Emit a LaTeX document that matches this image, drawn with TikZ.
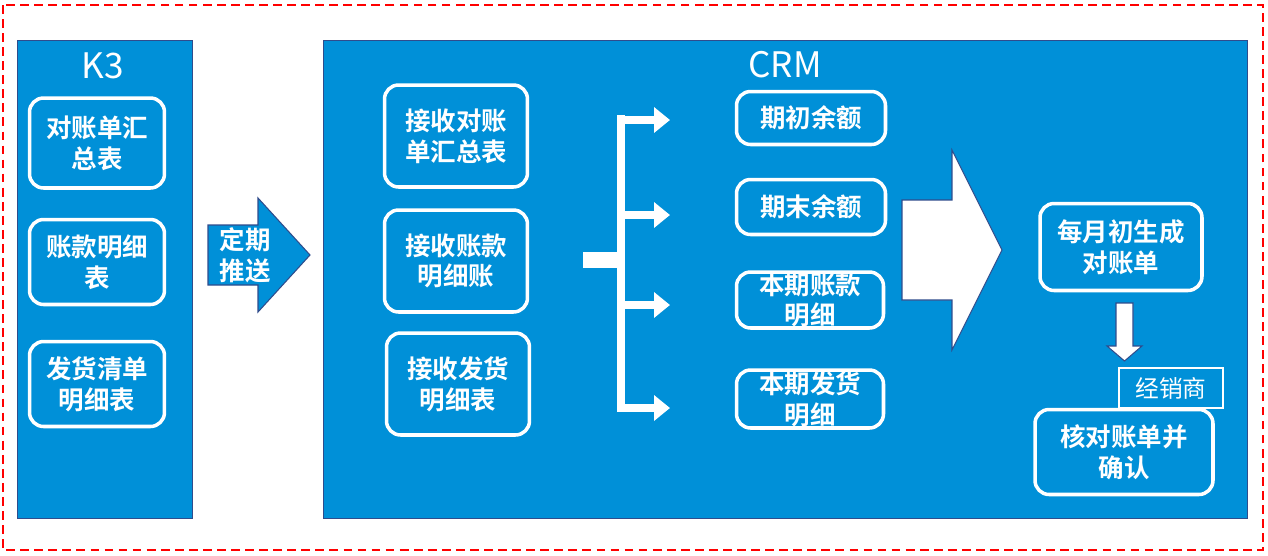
\documentclass[tikz,border=0pt]{standalone}
\usepackage{fontspec}
\newfontfamily\cjk{Noto Sans CJK SC}
\newfontfamily\cjkb{Noto Sans CJK SC Bold}
\usetikzlibrary{arrows.meta, positioning}
\definecolor{panelblue}{HTML}{0090D8}
\definecolor{edgeblue}{HTML}{2F4C8C}
\tikzstyle{panel} = [rectangle, draw=edgeblue, fill=panelblue, line width=0.6pt]
\tikzstyle{block} = [rectangle, rounded corners=8pt, draw=white, line width=2pt, fill=panelblue, text=white, align=center, font=\cjkb\fontsize{14.5}{17.5}\selectfont, inner sep=0pt]
\tikzstyle{bigarrow} = [draw=edgeblue, line width=0.6pt, line join=miter]
\begin{document}
\begin{tikzpicture}[x=0.02cm, y=-0.02cm]
	\useasboundingbox (0,0) rectangle (1268,555);
	\draw[red, dash pattern=on 5pt off 3pt, line width=1.5pt] (3,5) rectangle (1263,550);

	% Panels
	\node (k3) [panel, minimum width=3.5cm, minimum height=9.56cm, anchor=north west] at (17,40) {};
	\node (crm) [panel, minimum width=18.48cm, minimum height=9.56cm, anchor=north west] at (323,40) {};
	\node (k3_title) [text=white, font=\cjk\fontsize{20}{22}\selectfont] at (103,66) {K3};
	\node (crm_title) [text=white, font=\cjk\fontsize{20}{22}\selectfont] at (785,65) {CRM};

	% K3 blocks
	\node (k3_sum) [block, minimum width=2.7cm, minimum height=1.8cm] at (97,143) {对账单汇\\总表};
	\node (k3_pay) [block, minimum width=2.7cm, minimum height=1.7cm] at (97,262) {账款明细\\表};
	\node (k3_ship) [block, minimum width=2.7cm, minimum height=1.7cm] at (97,384) {发货清单\\明细表};

	% Push arrow
	\filldraw[bigarrow, fill=panelblue] (208,225) -- (258,225) -- (258,198) -- (310,255) -- (258,312) -- (258,285) -- (208,285) -- cycle;
	\node (push) [text=white, align=center, font=\cjkb\fontsize{14.5}{17.5}\selectfont] at (245,255) {定期\\推送};

	% Receive blocks
	\node (recv_sum) [block, minimum width=2.86cm, minimum height=2.04cm] at (456,136) {接收对账\\单汇总表};
	\node (recv_pay) [block, minimum width=2.86cm, minimum height=2.04cm] at (456,261) {接收账款\\明细账};
	\node (recv_ship) [block, minimum width=2.86cm, minimum height=2.04cm] at (458,384) {接收发货\\明细表};

	% Distribution bracket
	\coordinate (split) at (621,260);
	\fill[white] (583,252) rectangle (621,268);
	\fill[white] (617,115) rectangle (625,412);
	\foreach \y in {120,215,305,408}
		\draw[white, line width=4pt, -{Triangle[width=14pt, length=9pt]}] (621,\y) -- (670,\y);

	% Balance blocks
	\node (open_bal) [block, minimum width=2.98cm, minimum height=1.06cm] at (811,118) {期初余额};
	\node (close_bal) [block, minimum width=2.98cm, minimum height=1.1cm] at (811,207) {期末余额};
	\node (cur_pay) [block, minimum width=2.94cm, minimum height=1.12cm] at (810,300) {本期账款\\明细};
	\node (cur_ship) [block, minimum width=2.94cm, minimum height=1.16cm] at (810,399) {本期发货\\明细};

	% Big arrow
	\filldraw[bigarrow, fill=white] (902,200) -- (952,200) -- (952,150) -- (1002,250) -- (952,350) -- (952,300) -- (902,300) -- cycle;

	% Statement blocks
	\node (gen) [block, minimum width=3.24cm, minimum height=1.74cm] at (1121,247) {每月初生成\\对账单};
	\node (confirm) [block, minimum width=3.56cm, minimum height=1.7cm] at (1124,452) {核对账单并\\确认};
	\node (dealer) [draw=white, line width=0.8pt, text=white, minimum width=2.08cm, minimum height=0.8cm, font=\cjk\fontsize{13.5}{15}\selectfont, inner sep=0pt] at (1171,388) {经销商};

	\filldraw[bigarrow, fill=white] (1116,303) -- (1133,303) -- (1133,346) -- (1142,346) -- (1124.5,361) -- (1107,346) -- (1116,346) -- cycle;

\end{tikzpicture}
\end{document}
